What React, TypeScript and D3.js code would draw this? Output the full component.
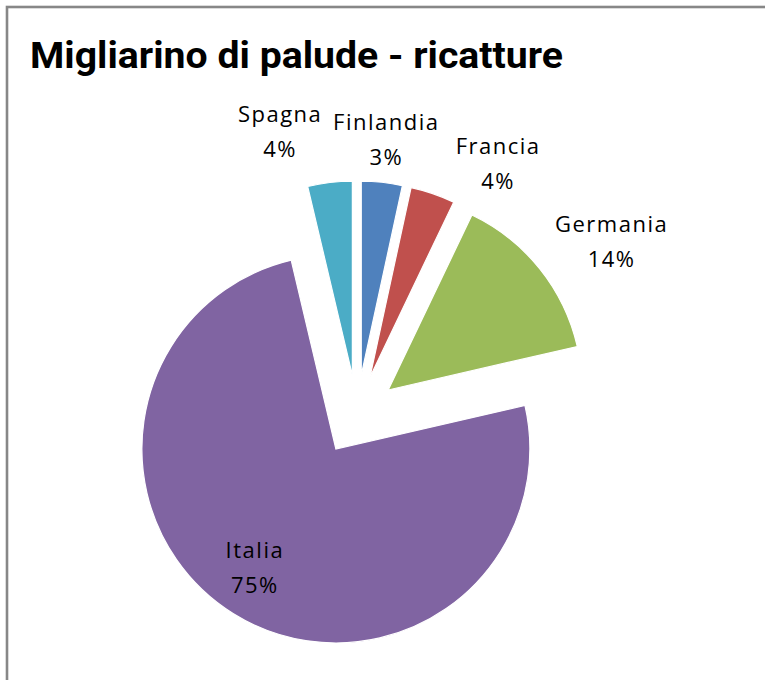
import React, { useRef, useEffect } from 'react';
import * as d3 from 'd3';

// data (percent of recaptures)
const countries = ['Finlandia', 'Francia', 'Germania', 'Italia', 'Spagna'];
const shares = [3.4, 3.7, 14.3, 74.9, 3.7];
const shareLabels = ['3%', '4%', '14%', '75%', '4%'];
const colors = ['#4F81BD', '#C0504D', '#9BBB59', '#8064A2', '#4BACC6'];

const title = 'Migliarino di palude - ricatture';

export default function App() {
    const ref = useRef<SVGSVGElement>(null);

    useEffect(() => {
        document.body.style.margin = '0';
        const width = 765, height = 680;
        const cx = 357, cy = 415;   // pie centre
        const radius = 194;
        const explode = 40;

        const svg = d3.select(ref.current);
        svg.selectAll('*').remove();
        svg.attr('width', width).attr('height', height);

        svg.append('rect')
            .attr('width', width).attr('height', height)
            .attr('fill', '#fff');

        // chart frame (only left + top visible)
        svg.append('rect')
            .attr('x', 7).attr('y', 7)
            .attr('width', width + 20).attr('height', height + 20)
            .attr('fill', 'none')
            .attr('stroke', '#878787')
            .attr('stroke-width', 2.6);

        svg.append('text')
            .attr('x', 30).attr('y', 68)
            .attr('textLength', 533)
            .attr('lengthAdjust', 'spacingAndGlyphs')
            .style('font-family', '"Liberation Sans Narrow", Roboto, sans-serif')
            .style('font-weight', 'bold')
            .style('font-size', '36px')
            .attr('fill', '#000')
            .text(title);

        const pie = d3.pie<number>().sort(null).value(d => d);
        const arcs = pie(shares);
        const arc = d3.arc<d3.PieArcDatum<number>>().innerRadius(0).outerRadius(radius);

        const g = svg.append('g').attr('transform', `translate(${cx},${cy})`);

        const mid = (d: d3.PieArcDatum<number>) => (d.startAngle + d.endAngle) / 2;

        g.selectAll('path')
            .data(arcs)
            .join('path')
            .attr('d', arc)
            .attr('transform', d => `translate(${Math.sin(mid(d)) * explode},${-Math.cos(mid(d)) * explode})`)
            .attr('fill', (d, i) => colors[i])
            .attr('stroke', '#fff')
            .attr('stroke-width', 1.2);

        // label placement: Italia inside, the rest outside (best fit)
        const labelRadius = [275, 275, 275, 184, 275];
        const labelNudge = [[0, -2], [52, 9], [40, -1], [-5, -3], [-45, -10]];

        const labels = g.selectAll('g.lbl')
            .data(arcs)
            .join('g')
            .attr('class', 'lbl')
            .attr('transform', (d, i) => {
                const a = mid(d);
                const x = Math.sin(a) * labelRadius[i] + labelNudge[i][0];
                const y = -Math.cos(a) * labelRadius[i] + labelNudge[i][1];
                return `translate(${x},${y})`;
            });

        labels.append('text')
            .attr('text-anchor', 'middle')
            .style('font-family', '"Open Sans", sans-serif')
            .style('font-size', '22px')
            .style('letter-spacing', '1.5px')
            .attr('fill', '#000')
            .selectAll('tspan')
            .data((d, i) => [countries[i], shareLabels[i]])
            .join('tspan')
            .attr('x', 0)
            .attr('y', (t, j) => -10 + j * 35)
            .text(t => t);
    }, []);

    return <svg ref={ref} style={{ display: 'block' }}></svg>;
}
